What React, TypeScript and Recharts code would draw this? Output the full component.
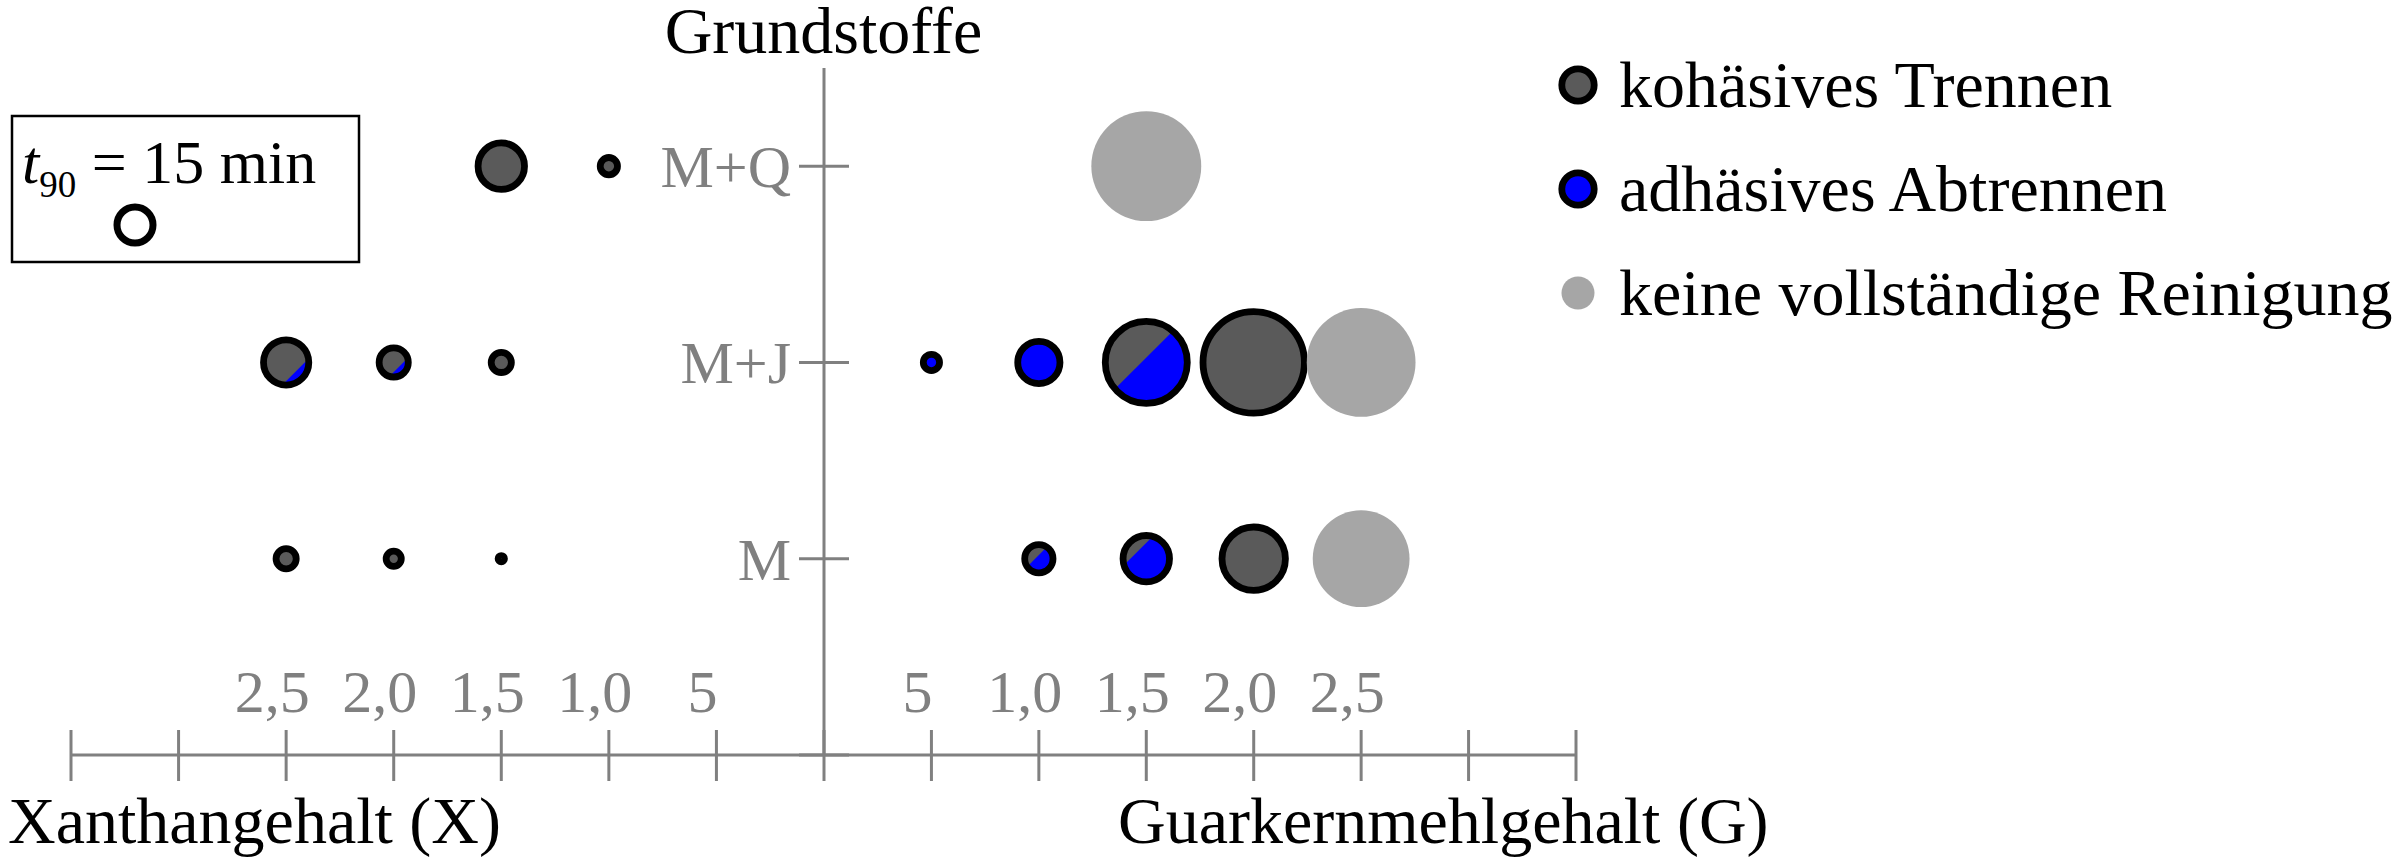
import React from 'react';
import { ScatterChart, Scatter, XAxis, YAxis, ZAxis } from 'recharts';

const SERIF = '"Liberation Serif", "Times New Roman", serif';
const GRAY = '#808080';
const DARK = '#5a5a5a';
const LIGHT = '#a6a6a6';
const BLUE = '#0000ff';
const RING = 6.8;

// Grundstoffe (y categories), bottom to top
const ROWS = ['', 'M', 'M+J', 'M+Q'];
const ROW_TICKS = [0, 1, 2, 3];

// concentration ticks, same on both halves
const CONC_TICKS = [0, 0.5, 1, 1.5, 2, 2.5, 3, 3.5];
const CONC_LABELS = ['', '5', '1,0', '1,5', '2,0', '2,5', '', ''];

// t90 in min -> bubble area
const T_REF = 15;
const T_MAX = 150;
const AREA_MAX = Math.PI * 21.5 * 21.5 * (T_MAX / T_REF);

// adh = share of adhesive separation, done = cleaned completely
const xanthan = [
  { row: 'M+Q', conc: 1.5, t90: 23, adh: 0, done: true },
  { row: 'M+Q', conc: 1.0, t90: 4.7, adh: 0, done: true },
  { row: 'M+J', conc: 2.5, t90: 22, adh: 0.18, done: true },
  { row: 'M+J', conc: 2.0, t90: 10.5, adh: 0.25, done: true },
  { row: 'M+J', conc: 1.5, t90: 5.9, adh: 0, done: true },
  { row: 'M', conc: 2.5, t90: 5.9, adh: 0, done: true },
  { row: 'M', conc: 2.0, t90: 3.9, adh: 0, done: true },
  { row: 'M', conc: 1.5, t90: 1.4, adh: 0, done: true },
];

const guar = [
  { row: 'M+Q', conc: 1.5, t90: 98, adh: 0, done: false },
  { row: 'M+J', conc: 0.5, t90: 4.3, adh: 1, done: true },
  { row: 'M+J', conc: 1.0, t90: 19.5, adh: 1, done: true },
  { row: 'M+J', conc: 1.5, t90: 64, adh: 0.55, done: true },
  { row: 'M+J', conc: 2.0, t90: 95, adh: 0, done: true },
  { row: 'M+J', conc: 2.5, t90: 96, adh: 0, done: false },
  { row: 'M', conc: 1.0, t90: 10, adh: 0.6, done: true },
  { row: 'M', conc: 1.5, t90: 23, adh: 0.77, done: true },
  { row: 'M', conc: 2.0, t90: 40, adh: 0, done: true },
  { row: 'M', conc: 2.5, t90: 76, adh: 0, done: false },
];

const LEGEND_LABELS = ['kohäsives Trennen', 'adhäsives Abtrennen', 'keine vollständige Reinigung'];

const withRow = (pts: typeof xanthan) => pts.map((p) => ({ ...p, y: ROWS.indexOf(p.row) }));

// blue cap on the lower right, area share f
const capPath = (cx: number, cy: number, r: number, f: number) => {
  let lo = 0;
  let hi = Math.PI;
  for (let i = 0; i < 40; i++) {
    const a = (lo + hi) / 2;
    const share = (2 * a - Math.sin(2 * a)) / (2 * Math.PI);
    if (share < f) lo = a;
    else hi = a;
  }
  const a = (lo + hi) / 2;
  const dir = Math.PI / 4;
  const x1 = cx + r * Math.cos(dir - a);
  const y1 = cy + r * Math.sin(dir - a);
  const x2 = cx + r * Math.cos(dir + a);
  const y2 = cy + r * Math.sin(dir + a);
  return `M${x1},${y1} A${r},${r} 0 ${2 * a > Math.PI ? 1 : 0} 1 ${x2},${y2} Z`;
};

const Bubble = (props: any) => {
  const { cx, cy, width, payload } = props;
  const R = width / 2;
  if (!payload.done) return <circle cx={cx} cy={cy} r={R} fill={LIGHT} />;
  const fillR = R - 1;
  const r = Math.max(R - RING / 2, 0.5);
  return (
    <g>
      <circle cx={cx} cy={cy} r={fillR} fill={payload.adh >= 1 ? BLUE : DARK} />
      {payload.adh > 0 && payload.adh < 1 && <path d={capPath(cx, cy, fillR, payload.adh)} fill={BLUE} />}
      <circle cx={cx} cy={cy} r={r} fill="none" stroke="#000" strokeWidth={RING} />
    </g>
  );
};

// labels sit a little left of their ticks in the original
const ConcTick = (props: any) => {
  const { x, y, payload } = props;
  const label = CONC_LABELS[CONC_TICKS.indexOf(payload.value)];
  return (
    <g>
      <line x1={x} x2={x} y1={y - 25} y2={y + 26} stroke={GRAY} strokeWidth={3} />
      <text x={x - 14} y={y - 43} textAnchor="middle" fontSize={60} fontFamily={SERIF} fill={GRAY}>
        {label}
      </text>
    </g>
  );
};

const RowTick = (props: any) => {
  const { x, y, payload } = props;
  return (
    <g>
      <line x1={x - 25} x2={x + 25} y1={y} y2={y} stroke={GRAY} strokeWidth={3} />
      <text x={x - 33} y={y + 21} textAnchor="end" fontSize={60} fontFamily={SERIF} fill={GRAY}>
        {ROWS[payload.value]}
      </text>
    </g>
  );
};

const axisTitle = (text: string, dx: number, dy: number) => (props: any) => {
  const { x, y } = props.viewBox;
  return (
    <text x={x + dx} y={y + dy} fontSize={66} fontFamily={SERIF} fill="#000">
      {text}
    </text>
  );
};

const layer: React.CSSProperties = { position: 'absolute', left: 0, top: 0 };

const App = () => {
  const refR = Math.sqrt((AREA_MAX * (T_REF / T_MAX)) / Math.PI);
  return (
    <div style={{ position: 'absolute', left: 0, top: 0, width: 2408, height: 868, background: '#fff', fontFamily: SERIF }}>
      {/* Xanthan half, axis runs to the left */}
      <div style={layer}>
        <ScatterChart width={2408} height={868} margin={{ top: 68, right: 1584, bottom: 112, left: 71 }}>
          <XAxis
            type="number"
            dataKey="conc"
            domain={[0, 3.5]}
            reversed
            ticks={CONC_TICKS.slice(1)}
            interval={0}
            height={1}
            tickSize={0}
            tickMargin={0}
            tickLine={false}
            tick={<ConcTick />}
            axisLine={{ stroke: GRAY, strokeWidth: 3 }}
            label={{ content: axisTitle('Xanthangehalt (X)', -63, 88) }}
          />
          <YAxis type="number" dataKey="y" domain={[0, 3.5]} hide width={0} />
          <ZAxis type="number" dataKey="t90" domain={[0, T_MAX]} range={[0, AREA_MAX]} />
          <Scatter data={withRow(xanthan)} shape={<Bubble />} isAnimationActive={false} />
        </ScatterChart>
      </div>

      {/* Guar half, carries the Grundstoffe axis */}
      <div style={layer}>
        <ScatterChart width={2408} height={868} margin={{ top: 68, right: 832, bottom: 112, left: 823 }}>
          <XAxis
            type="number"
            dataKey="conc"
            domain={[0, 3.5]}
            ticks={CONC_TICKS}
            interval={0}
            height={1}
            tickSize={0}
            tickMargin={0}
            tickLine={false}
            tick={<ConcTick />}
            axisLine={{ stroke: GRAY, strokeWidth: 3 }}
            label={{ content: axisTitle('Guarkernmehlgehalt (G)', 294, 88) }}
          />
          <YAxis
            type="number"
            dataKey="y"
            domain={[0, 3.5]}
            ticks={ROW_TICKS}
            interval={0}
            width={1}
            tickSize={0}
            tickMargin={0}
            tickLine={false}
            tick={<RowTick />}
            axisLine={{ stroke: GRAY, strokeWidth: 3 }}
            label={{ value: 'Grundstoffe', position: 'top', offset: 15, fontSize: 66, fontFamily: SERIF, fill: '#000' }}
          />
          <ZAxis type="number" dataKey="t90" domain={[0, T_MAX]} range={[0, AREA_MAX]} />
          <Scatter data={withRow(guar)} shape={<Bubble />} isAnimationActive={false} />
        </ScatterChart>
      </div>

      {/* t90 key and legend */}
      <svg width={2408} height={868} style={layer}>
        <rect x={12} y={116} width={347} height={146} fill="none" stroke="#000" strokeWidth={2.5} />
        <text x={22} y={183} fontSize={62} fontFamily={SERIF} fill="#000">
          <tspan fontStyle="italic">t</tspan>
          <tspan fontSize={37} dy={14}>90</tspan>
          <tspan dy={-14}>{' = 15 min'}</tspan>
        </text>
        <circle cx={135} cy={225} r={refR - 3.5} fill="none" stroke="#000" strokeWidth={7} />

        {LEGEND_LABELS.map((label, i) => {
          const cy = 85 + i * 104;
          return (
            <g key={label}>
              {i < 2 ? (
                <circle cx={1578} cy={cy} r={16.2} fill={i === 0 ? DARK : BLUE} stroke="#000" strokeWidth={RING} />
              ) : (
                <circle cx={1578} cy={cy} r={16.5} fill={LIGHT} />
              )}
              <text x={1619} y={cy + 22} fontSize={66} fontFamily={SERIF} fill="#000">
                {label}
              </text>
            </g>
          );
        })}
      </svg>
    </div>
  );
};

export default App;
